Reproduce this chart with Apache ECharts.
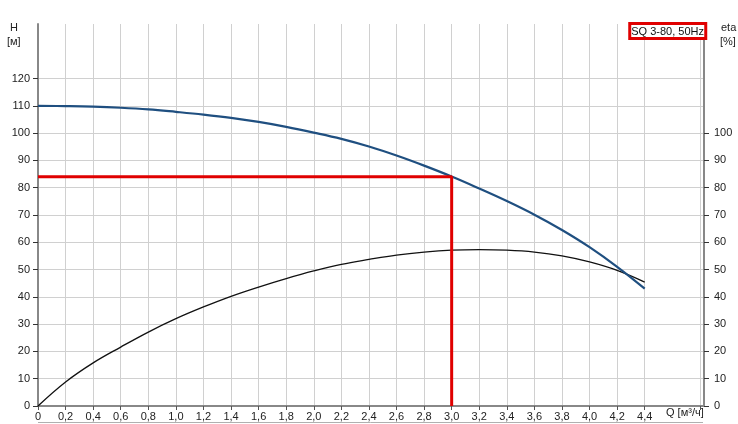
<!DOCTYPE html>
<html>
<head>
<meta charset="utf-8">
<script src="https://cdn.jsdelivr.net/npm/echarts@6/dist/echarts.min.js"></script>
<style>html,body{margin:0;padding:0;background:#fff}#c{width:738px;height:424px}</style>
</head>
<body>
<div id="c"></div>
<script>
var qValues = [0,0.2,0.4,0.6,0.8,1.0,1.2,1.4,1.6,1.8,2.0,2.2,2.4,2.6,2.8,3.0,3.2,3.4,3.6,3.8,4.0,4.2,4.4];
var headValues = [110,109.9,109.7,109.3,108.7,107.8,106.8,105.6,104.1,102.3,100.2,97.9,95.1,91.8,88.1,84.1,79.7,75.1,70.1,64.5,58.2,51.0,43.0];
var etaValues = [0,8.8,15.8,21.6,27.1,32.0,36.3,40.2,43.6,46.7,49.5,51.9,53.7,55.3,56.4,57.1,57.3,57.1,56.4,55.0,52.8,49.7,45.4];
var dutyQ = 3.0;
var dutyH = 84;
var xTickLabels = [0,0.2,0.4,0.6,0.8,1.0,1.2,1.4,1.6,1.8,2.0,2.2,2.4,2.6,2.8,3.0,3.2,3.4,3.6,3.8,4.0,4.2,4.4];
var xTickMarks = [0,0.2,0.4,0.6,0.8,1.0,1.2,1.4,1.6,1.8,2.0,2.2,2.4,2.6,2.8,3.0,3.2,3.4,3.6,3.8,4.0,4.2,4.4,4.8];
var hTickLabels = [0,10,20,30,40,50,60,70,80,90,100,110,120];
var etaTickLabels = [0,10,20,30,40,50,60,70,80,90,100];
var titleText = 'SQ 3-80, 50Hz';

var font = 'Liberation Sans, Arial, sans-serif';
var chart = echarts.init(document.getElementById('c'));
var headData = qValues.map(function(q,i){return [q, headValues[i]];});
var etaData = qValues.map(function(q,i){return [q, etaValues[i]];});
var dutyData = [[0,dutyH],[dutyQ,dutyH],[dutyQ,0]];

function fmtX(v){ return v === 0 ? '0' : (+v).toFixed(1).replace('.', ','); }

var axisLineStyle = {color:'#888888', width:2};

chart.setOption({
  animation:false,
  backgroundColor:'#fff',
  title:{
    text:titleText, right:32, top:23,
    backgroundColor:'#fff', borderColor:'#e00000', borderWidth:3,
    padding:[3,2,2,2],
    textStyle:{fontSize:11, fontWeight:'normal', color:'#111', fontFamily:font}
  },
  grid:{left:38, right:34, top:24, bottom:18, containLabel:false},
  xAxis:{
    type:'value', min:0, max:4.83, interval:0.2,
    axisLine:{show:true, lineStyle:axisLineStyle},
    axisTick:{show:true, length:4, lineStyle:{color:'#555', width:1}, customValues:xTickMarks},
    axisLabel:{customValues:xTickLabels, formatter:fmtX, margin:5, color:'#222', fontSize:11, fontFamily:font},
    splitLine:{show:true, lineStyle:{color:'#d0d0d0', width:1}}
  },
  yAxis:[{
    type:'value', min:0, max:140, interval:10, position:'left',
    axisLine:{show:true, lineStyle:axisLineStyle},
    axisTick:{show:true, length:5, lineStyle:{color:'#333', width:1}, customValues:hTickLabels},
    axisLabel:{customValues:hTickLabels, margin:8, color:'#222', fontSize:11, fontFamily:font},
    splitLine:{show:true, lineStyle:{color:'#d0d0d0', width:1}}
  },{
    type:'value', min:0, max:140, interval:10, position:'right',
    axisLine:{show:true, lineStyle:axisLineStyle},
    axisTick:{show:true, length:5, lineStyle:{color:'#333', width:1}, customValues:etaTickLabels},
    axisLabel:{customValues:etaTickLabels, margin:10, color:'#222', fontSize:11, fontFamily:font},
    splitLine:{show:false}
  }],
  graphic:[
    {type:'text', left:10, top:22, style:{text:'H', fill:'#222', font:'11px ' + font}},
    {type:'text', left:7, top:36, style:{text:'[м]', fill:'#222', font:'11px ' + font}},
    {type:'text', left:721, top:22, style:{text:'eta', fill:'#222', font:'11px ' + font}},
    {type:'text', left:720, top:36, style:{text:'[%]', fill:'#222', font:'11px ' + font}},
    {type:'text', left:666, top:407, style:{text:'Q [м³/ч]', fill:'#222', font:'11px ' + font}},
    {type:'line', shape:{x1:38, y1:422.5, x2:703, y2:422.5}, style:{stroke:'#b0b0b0', lineWidth:1}}
  ],
  series:[
    {type:'line', name:'eta', yAxisIndex:1, data:etaData, smooth:0.4, showSymbol:false, symbol:'none',
     lineStyle:{color:'#111', width:1.3}, z:3},
    {type:'line', name:'H', yAxisIndex:0, data:headData, smooth:0.4, showSymbol:false, symbol:'none',
     lineStyle:{color:'#1f4f80', width:2.2}, z:4},
    {type:'line', name:'duty', yAxisIndex:0, data:dutyData, smooth:false, showSymbol:false, symbol:'none',
     lineStyle:{color:'#e00000', width:3}, z:5}
  ]
});
</script>
</body>
</html>
